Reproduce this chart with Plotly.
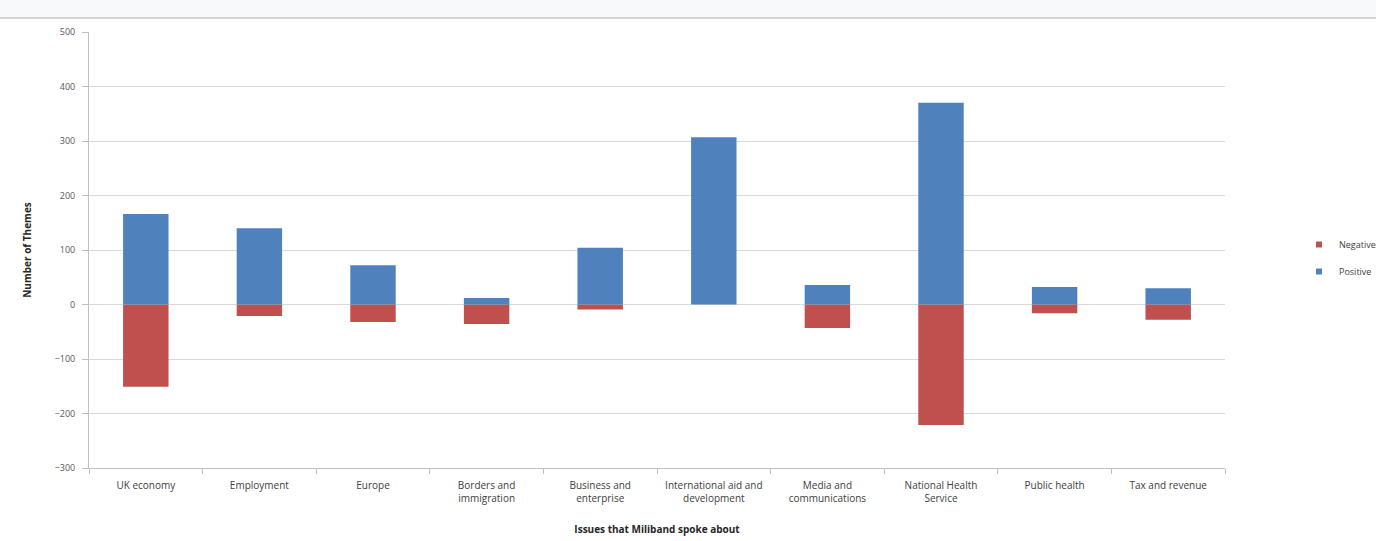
import plotly.graph_objects as go

# Issues and counts of themes, split by tone
issues = [
    "UK economy", "Employment", "Europe", "Borders and<br>immigration",
    "Business and<br>enterprise", "International aid and<br>development",
    "Media and<br>communications", "National Health<br>Service",
    "Public health", "Tax and revenue",
]
negative = [-151, -21, -32, -36, -9, 0, -43, -221, -16, -28]
positive = [166, 140, 72, 12, 104, 307, 36, 370, 32, 30]

y_ticks = [500, 400, 300, 200, 100, 0, -100, -200, -300]

series = [("Negative", negative, "#c0504d"), ("Positive", positive, "#4f81bd")]

font_main = "Open Sans, Liberation Sans, sans-serif"
W, H = 1376, 541
L, R, T, B = 89, 151, 32, 73
pw = W - L - R
ph = H - T - B

fig = go.Figure()
for name, vals, color in series:
    fig.add_trace(go.Bar(x=issues, y=vals, name=name, showlegend=False,
                         marker=dict(color=color, line=dict(width=0))))
# small square legend keys
for name, vals, color in series:
    fig.add_trace(go.Scatter(x=[None], y=[None], name=name, mode="markers",
                             legendgroup=name,
                             marker=dict(symbol="square", size=6, color=color)))

fig.update_layout(
    width=W, height=H,
    barmode="relative",
    bargap=0.6,
    paper_bgcolor="white",
    plot_bgcolor="white",
    margin=dict(l=L, r=R, t=T, b=B, autoexpand=False),
    font=dict(family=font_main, size=10, color="#404040"),
    legend=dict(x=(1299 - L) / pw, y=(H - B - 258) / ph, xanchor="left", yanchor="middle",
                font=dict(size=9, color="#404040"), traceorder="grouped",
                tracegroupgap=8, itemwidth=30, bgcolor="rgba(0,0,0,0)"),
    xaxis=dict(
        title=dict(text="<b>Issues that Miliband spoke about</b>",
                   font=dict(size=10, color="#262626"), standoff=21),
        tickfont=dict(size=10, color="#404040"),
        ticklabelstandoff=8,
        showline=True, linecolor="#bfbfbf", linewidth=1,
        ticks="outside", tickson="boundaries", ticklen=5, tickcolor="#bfbfbf",
        showgrid=False,
    ),
    yaxis=dict(
        title=dict(text="<b>Number of Themes</b>",
                   font=dict(size=10, color="#262626"), standoff=21),
        range=[-300, 500], tickvals=y_ticks,
        tickfont=dict(size=9, color="#595959"),
        ticklabelstandoff=5,
        showline=True, linecolor="#bfbfbf", linewidth=1,
        ticks="outside", ticklen=6, tickcolor="#bfbfbf",
        showgrid=True, gridcolor="#d9d9d9", gridwidth=1,
        zeroline=True, zerolinecolor="#d9d9d9", zerolinewidth=1,
    ),
    shapes=[
        dict(type="rect", xref="paper", yref="paper",
             x0=-L / pw, x1=(W - L) / pw,
             y0=1 + 14 / ph, y1=1 + 33 / ph,
             fillcolor="#f8f9fb", line=dict(width=0), layer="below"),
        dict(type="line", xref="paper", yref="paper",
             x0=-L / pw, x1=(W - L) / pw,
             y0=1 + 14 / ph, y1=1 + 14 / ph,
             line=dict(color="#c8c8c8", width=1.5)),
    ],
)

fig.write_html("out.html")
